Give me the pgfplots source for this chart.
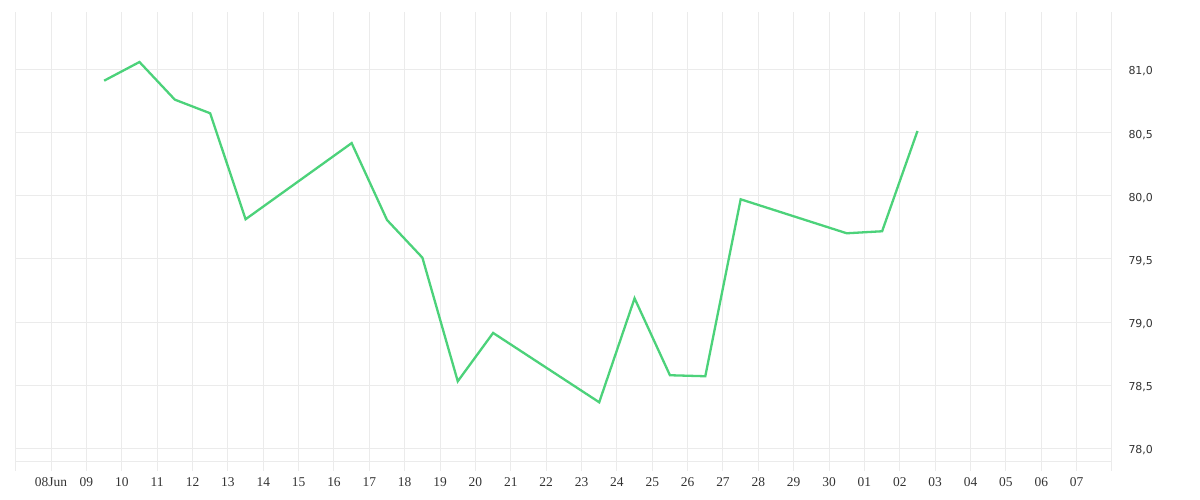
\documentclass[border=0pt]{standalone}
\usepackage{pgfplots}
\pgfplotsset{compat=1.18}
\usepackage{fontspec}
\setmainfont{Liberation Serif}
\newfontfamily\yfont{DejaVu Sans}
\definecolor{linegreen}{HTML}{4CD27A}
\definecolor{gridgray}{HTML}{EBEBEB}
\definecolor{labelgray}{HTML}{333333}

\begin{document}
\begin{tikzpicture}
  \begin{axis}[
      at={(15.7bp,39bp)}, anchor=south west,
      scale only axis, width=1096.3bp, height=449bp,
      xmin=0, xmax=31, ymin=77.9, ymax=81.455,
      axis line style={draw=none},
      xtick pos=bottom,
      xtick={0,...,31},
      xticklabels={,08Jun,09,10,11,12,13,14,15,16,17,18,19,20,21,22,23,24,25,26,27,28,29,30,01,02,03,04,05,06,07,},
      ytick={78,78.5,...,81},
      extra y ticks={77.9},
      extra y tick labels={},
      yticklabel pos=right,
      grid=major,
      grid style={gridgray, line width=1bp},
      tick align=outside,
      major tick length=10bp,
      xtick style={gridgray, line width=1bp},
      ytick style={draw=none},
      xticklabel style={font=\fontsize{13.5}{15}\selectfont, text=labelgray, yshift=-3bp},
      yticklabel style={font=\yfont\fontsize{11}{13}\selectfont, text=labelgray, anchor=west, xshift=3bp, yshift=-2bp},
      /pgf/number format/.cd, fixed, fixed zerofill, precision=1, use comma, assume math mode=true,
    ]
    \addplot[color=linegreen, line width=2.3bp, mark=none] coordinates {
      (2.5, 80.911)
      (3.5, 81.059)
      (4.5, 80.761)
      (5.5, 80.653)
      (6.5, 79.814)
      (9.5, 80.417)
      (10.5, 79.808)
      (11.5, 79.510)
      (12.5, 78.531)
      (13.5, 78.914)
      (16.5, 78.365)
      (17.5, 79.188)
      (18.5, 78.579)
      (19.5, 78.571)
      (20.5, 79.972)
      (23.5, 79.703)
      (24.5, 79.719)
      (25.5, 80.513)
    };
  \end{axis}
  \pgfresetboundingbox
  \useasboundingbox (0,0) rectangle (1200bp,500bp);
\end{tikzpicture}
\end{document}
